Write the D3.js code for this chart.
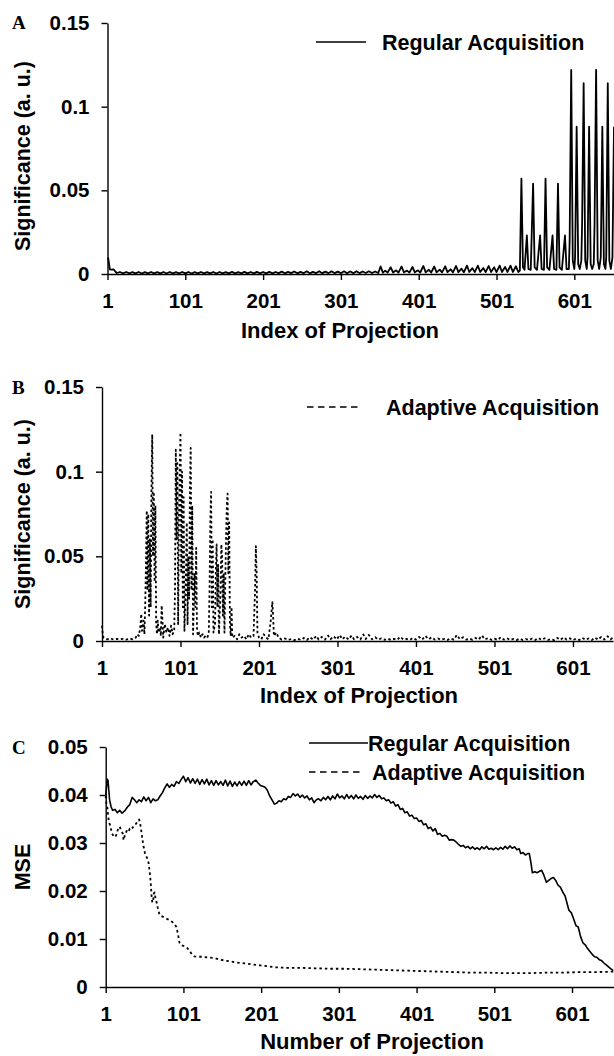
<!DOCTYPE html>
<html>
<head>
<meta charset="utf-8">
<script src="https://cdn.jsdelivr.net/npm/d3@7"></script>
<style>
  html, body { margin: 0; padding: 0; background: #fff; }
  svg { display: block; }
  text { font-family: "Liberation Sans", Arial, sans-serif; font-weight: bold; fill: #000; }
  .letter { font-family: "Liberation Serif", "Times New Roman", serif; }
</style>
</head>
<body>
<svg id="chart" width="614" height="1056"></svg>
<script>
// ---- tick values / labels ----
const projTicks = [1, 101, 201, 301, 401, 501, 601];
const sigTicks = [0, 0.05, 0.1, 0.15];
const sigTickLabels = ["0", "0.05", "0.1", "0.15"];
const mseTicks = [0, 0.01, 0.02, 0.03, 0.04, 0.05];
const mseTickLabels = ["0", "0.01", "0.02", "0.03", "0.04", "0.05"];
const seriesNames = ["Regular Acquisition", "Adaptive Acquisition"];

// ---- panel A: significance, regular acquisition [index, value] ----
const regularSig = [
  [1,0.0098],[2,0.0092],[3,0.006],[4,0.0028],[6,0.0026],[9,0.0027],[11,0.0015],[13,0.0006],
  [17,0.0012],[21,0.0004],[25,0.0012],[29,0.0004],[33,0.0011],[37,0.0004],[41,0.0012],[45,0.0003],
  [49,0.0011],[53,0.0004],[57,0.0012],[61,0.0004],[65,0.0011],[69,0.0004],[73,0.0012],[77,0.0003],
  [81,0.0012],[85,0.0004],[89,0.0011],[93,0.0004],[97,0.0012],[101,0.0004],[105,0.0012],[109,0.0003],
  [113,0.0011],[117,0.0004],[121,0.0012],[125,0.0004],[129,0.0011],[133,0.0004],[137,0.0012],[141,0.0003],
  [145,0.0012],[149,0.0004],[153,0.0011],[157,0.0004],[161,0.0013],[165,0.0004],[169,0.0011],[173,0.0004],
  [177,0.0013],[181,0.0004],[185,0.0012],[189,0.0004],[193,0.0013],[197,0.0004],[201,0.0012],[205,0.0004],
  [209,0.0013],[213,0.0004],[217,0.0012],[221,0.0005],[225,0.0014],[229,0.0004],[233,0.0013],[237,0.0005],
  [241,0.0015],[245,0.0004],[249,0.0013],[253,0.0005],[257,0.0016],[261,0.0004],[265,0.0013],[269,0.0005],
  [273,0.0017],[277,0.0005],[281,0.0014],[285,0.0005],[289,0.0016],[293,0.0005],[297,0.0014],[301,0.0005],
  [305,0.0016],[309,0.0005],[313,0.0015],[317,0.0005],[321,0.0017],[325,0.0005],[329,0.0015],[333,0.0006],
  [337,0.0016],[341,0.0006],[345,0.0015],[349,0.0006],
  [352,0.0045],[355,0.0008],[358,0.002],[361,0.0008],[365,0.004],[368,0.0009],[372,0.0022],[375,0.0008],
  [379,0.0045],[382,0.001],[386,0.002],[389,0.0008],[393,0.0042],[396,0.001],[400,0.0022],[403,0.0009],
  [407,0.0048],[410,0.001],[414,0.0025],[417,0.0009],[421,0.0045],[424,0.001],[428,0.0026],[431,0.001],
  [435,0.0046],[438,0.0011],[442,0.0028],[445,0.001],[449,0.0048],[452,0.0011],[456,0.0032],[459,0.001],
  [463,0.005],[466,0.0012],[470,0.0035],[473,0.0011],[477,0.005],[480,0.0012],[484,0.0036],[487,0.0011],
  [491,0.0048],[494,0.0012],[498,0.004],[501,0.0011],[505,0.005],[508,0.0012],[512,0.0042],[515,0.0012],
  [519,0.005],[522,0.0012],[526,0.0046],[529,0.0012],
  [531,0.002],[533,0.057],[535,0.004],[537,0.0025],[540,0.023],[542,0.003],[545,0.0025],[548,0.054],
  [550,0.004],[553,0.0025],[557,0.023],[559,0.003],[562,0.0025],[564,0.057],[566,0.004],[569,0.0025],
  [573,0.023],[575,0.003],[578,0.0025],[580,0.054],[582,0.004],[585,0.0025],[589,0.023],[591,0.003],
  [594,0.003],[595,0.02],[597,0.122],[599,0.008],[601,0.003],[602,0.01],[604,0.088],[606,0.006],
  [608,0.003],[610,0.008],[611,0.03],[613,0.114],[615,0.008],[617,0.003],[618,0.01],[620,0.088],
  [622,0.006],[624,0.003],[626,0.006],[627,0.03],[629,0.122],[631,0.008],[633,0.003],[635,0.01],
  [637,0.088],[639,0.006],[641,0.003],[642,0.01],[644,0.114],[646,0.008],[648,0.003],[650,0.01],[652,0.088]
];

// ---- panel B: significance, adaptive acquisition [index, value] ----
const adaptiveSig = [
  [1,0.009],[2,0.004],[3,0.002],[5,0.0015],[8,0.001],[12,0.0015],[16,0.0008],[20,0.0012],[24,0.001],
  [28,0.0013],[32,0.0008],[36,0.0015],[40,0.001],[44,0.002],[46,0.004],[48,0.003],[50,0.009],[51,0.016],
  [52,0.006],[54,0.012],[55,0.004],[56,0.02],[57,0.045],[58,0.077],[59,0.03],[60,0.075],[61,0.015],
  [62,0.06],[63,0.02],[64,0.09],[65,0.122],[66,0.05],[67,0.088],[68,0.035],[69,0.08],[70,0.01],
  [71,0.004],[72,0.012],[73,0.005],[75,0.008],[76,0.003],[77,0.021],[78,0.012],[79,0.002],[81,0.01],
  [83,0.005],[85,0.008],[87,0.003],[89,0.009],[91,0.004],[93,0.006],
  [94,0.03],[95,0.113],[96,0.06],[97,0.105],[98,0.01],[99,0.07],[100,0.1],[101,0.123],[102,0.04],
  [103,0.1],[104,0.02],[105,0.085],[106,0.006],[108,0.04],[109,0.07],[110,0.01],[111,0.05],[112,0.025],
  [113,0.09],[114,0.114],[115,0.03],[116,0.08],[117,0.004],[119,0.04],[120,0.02],[121,0.055],[122,0.008],
  [123,0.003],[125,0.005],[127,0.002],[129,0.004],[131,0.002],[133,0.003],[135,0.002],
  [137,0.004],[138,0.03],[139,0.07],[140,0.088],[141,0.02],[142,0.06],[143,0.005],[145,0.01],[146,0.04],
  [147,0.057],[148,0.02],[149,0.045],[150,0.004],[152,0.03],[153,0.057],[154,0.05],[155,0.015],[156,0.04],
  [157,0.005],[159,0.06],[160,0.08],[161,0.087],[162,0.04],[163,0.07],[164,0.01],[165,0.003],[166,0.02],
  [167,0.002],[170,0.003],[173,0.001],[176,0.004],[179,0.002],[182,0.003],[185,0.001],[188,0.004],
  [191,0.002],[194,0.003],[196,0.03],[197,0.056],[198,0.04],[199,0.005],[201,0.002],[204,0.001],
  [207,0.004],[210,0.002],[213,0.001],[216,0.012],[218,0.023],[219,0.015],[220,0.003],[223,0.005],
  [226,0.002],[230,0.0008],[234,0.0015],[238,0.0006],[242,0.0012],[246,0.0005],[250,0.0014],[254,0.0007],
  [258,0.0018],[262,0.0006],[266,0.0022],[270,0.0008],[274,0.003],[277,0.0009],[281,0.0024],[285,0.0008],
  [289,0.0032],[292,0.001],[296,0.0028],[300,0.0009],[304,0.0035],[307,0.001],[311,0.0026],[315,0.0009],
  [319,0.0032],[322,0.001],[326,0.0024],[330,0.0009],[334,0.0038],[337,0.0012],[341,0.0036],[345,0.001],
  [349,0.0022],[353,0.0008],[357,0.0016],[361,0.0007],[365,0.0014],[369,0.0006],[373,0.0012],[377,0.0007],
  [381,0.0025],[385,0.0008],[389,0.0012],[393,0.0006],[397,0.0018],[401,0.0008],[405,0.0024],[409,0.0009],
  [413,0.003],[417,0.001],[421,0.0022],[425,0.0008],[429,0.0015],[433,0.0007],[437,0.0012],[441,0.0006],
  [445,0.0016],[449,0.0008],[453,0.0035],[457,0.001],[461,0.0022],[465,0.0008],[469,0.0014],[473,0.0007],
  [477,0.0018],[481,0.0009],[485,0.0032],[489,0.0009],[493,0.0018],[497,0.0007],[501,0.0014],[505,0.0006],
  [509,0.0022],[513,0.0008],[517,0.0016],[521,0.0006],[525,0.0012],[529,0.0005],[533,0.0014],[537,0.0006],
  [541,0.0012],[545,0.0005],[549,0.0015],[553,0.0006],[557,0.0018],[561,0.0007],[565,0.0016],[569,0.0006],
  [573,0.0012],[577,0.0005],[581,0.0018],[585,0.0007],[589,0.0022],[593,0.0008],[597,0.0016],[601,0.0006],
  [605,0.0014],[609,0.0006],[613,0.0018],[617,0.0007],[621,0.0015],[625,0.0006],[629,0.002],[633,0.0008],
  [637,0.0024],[641,0.0009],[645,0.0028],[649,0.001],[652,0.002]
];

// ---- panel C: MSE vs number of projections [n, mse] ----
const regularMse = [
  [1,0.040],[2,0.0415],[3,0.0433],[4,0.043],[5,0.041],[6,0.039],[8,0.0375],[10,0.0368],[13,0.037],
  [16,0.0363],[19,0.0368],[22,0.0362],[26,0.0368],[29,0.0375],[32,0.038],[35,0.0395],[38,0.039],
  [41,0.0384],[44,0.039],[47,0.0386],[50,0.0396],[53,0.0388],[56,0.0395],[59,0.0384],[62,0.0392],
  [65,0.0388],[68,0.039],[71,0.0398],[74,0.0405],[77,0.0415],[80,0.0423],[83,0.0416],[86,0.0422],
  [89,0.0418],[92,0.0428],[95,0.0424],[98,0.0432],[101,0.0439],[104,0.0428],[107,0.0436],[110,0.0425],
  [113,0.0434],[116,0.0424],[119,0.0433],[122,0.0422],[125,0.0432],[128,0.0423],[131,0.0433],[134,0.0421],
  [137,0.043],[140,0.042],[143,0.043],[146,0.0421],[149,0.0428],[152,0.042],[155,0.0431],[158,0.0419],
  [161,0.0429],[164,0.0418],[167,0.0427],[170,0.0419],[173,0.0428],[176,0.042],[179,0.0429],[182,0.042],
  [185,0.043],[188,0.0421],[191,0.0428],[194,0.0431],[197,0.0425],[200,0.042],[203,0.0418],[206,0.0416],
  [209,0.041],[212,0.0398],[215,0.039],[218,0.0381],[221,0.0383],[224,0.0388],[227,0.0386],[230,0.0392],
  [233,0.039],[236,0.0397],[239,0.0395],[242,0.0403],[245,0.0398],[248,0.0402],[251,0.0395],[254,0.04],
  [257,0.0394],[260,0.0398],[263,0.039],[266,0.0394],[269,0.0384],[272,0.039],[275,0.0392],[278,0.0388],
  [281,0.0395],[284,0.039],[287,0.0397],[290,0.039],[293,0.0398],[296,0.0392],[299,0.0402],[302,0.0394],
  [305,0.0398],[308,0.0392],[311,0.0401],[314,0.0393],[317,0.0399],[320,0.0392],[323,0.04],[326,0.0393],
  [329,0.0397],[332,0.0391],[335,0.0399],[338,0.0393],[341,0.0398],[344,0.0394],[347,0.0401],[350,0.0395],
  [353,0.0399],[356,0.0392],[359,0.0394],[362,0.0388],[365,0.039],[368,0.0383],[371,0.0386],[374,0.0377],
  [377,0.038],[380,0.037],[383,0.0372],[386,0.0363],[389,0.0365],[392,0.0356],[395,0.0358],[398,0.0351],
  [401,0.0352],[404,0.0345],[407,0.0347],[410,0.0338],[413,0.034],[416,0.033],[419,0.0333],[422,0.0325],
  [425,0.033],[428,0.0318],[431,0.032],[434,0.0314],[437,0.0316],[440,0.0314],[443,0.0306],[446,0.0307],
  [449,0.0306],[452,0.0302],[455,0.0297],[458,0.0293],[461,0.0295],[464,0.029],[467,0.0293],[470,0.0288],
  [473,0.0292],[476,0.0287],[479,0.029],[482,0.0286],[485,0.0292],[488,0.0288],[491,0.0293],[494,0.0287],
  [497,0.0289],[500,0.0286],[503,0.029],[506,0.0286],[509,0.0291],[512,0.0287],[515,0.0293],[518,0.0288],
  [521,0.0294],[524,0.0289],[527,0.0292],[530,0.0286],[533,0.0288],[535,0.0278],[538,0.028],[541,0.0275],
  [544,0.0278],[546,0.0278],[548,0.026],[550,0.0238],[553,0.024],[556,0.0238],[559,0.0241],[562,0.0243],
  [565,0.0232],[568,0.0218],[571,0.0222],[574,0.0226],[577,0.0228],[580,0.0222],[583,0.0212],[586,0.0208],
  [589,0.0198],[592,0.019],[595,0.0172],[597,0.016],[600,0.0155],[603,0.0142],[606,0.0128],[609,0.0125],
  [612,0.0105],[615,0.0092],[618,0.0088],[621,0.008],[624,0.0074],[627,0.0068],[630,0.0063],[633,0.0062],
  [636,0.0057],[639,0.0055],[642,0.005],[645,0.0046],[648,0.0042],[651,0.0038],[654,0.0034]
];

const adaptiveMse = [
  [1,0.0398],[2,0.038],[3,0.0377],[4,0.036],[5,0.0345],[7,0.0335],[9,0.032],[11,0.0315],[13,0.0312],
  [15,0.0318],[17,0.033],[19,0.0334],[21,0.0325],[23,0.032],[24,0.0306],[26,0.0318],[28,0.0325],
  [30,0.0322],[32,0.033],[34,0.0328],[36,0.0333],[38,0.0338],[40,0.034],[42,0.0345],[44,0.0349],
  [46,0.0335],[48,0.031],[50,0.029],[52,0.0275],[54,0.027],[56,0.026],[58,0.0235],[59,0.0215],[60,0.019],
  [61,0.0176],[62,0.018],[63,0.0195],[64,0.0197],[65,0.0185],[66,0.018],[68,0.0165],[70,0.0152],
  [72,0.0148],[75,0.0146],[78,0.0143],[81,0.0141],[84,0.0139],[87,0.0135],[90,0.013],[92,0.0125],
  [94,0.011],[96,0.0092],[98,0.0088],[100,0.0086],[103,0.0085],[106,0.0081],[109,0.0075],[112,0.0068],
  [115,0.0064],[120,0.0063],[125,0.0063],[130,0.0062],[136,0.0061],[142,0.006],[148,0.0057],[155,0.0055],
  [162,0.0053],[170,0.0051],[180,0.0049],[190,0.0047],[200,0.0045],[210,0.0043],[220,0.0041],[235,0.004],
  [250,0.004],[270,0.0039],[290,0.0038],[310,0.0038],[330,0.0037],[350,0.0036],[370,0.0035],[390,0.0034],
  [410,0.0033],[430,0.0032],[450,0.0031],[470,0.003],[490,0.003],[510,0.0029],[530,0.0029],[550,0.0029],
  [570,0.003],[590,0.003],[610,0.0031],[630,0.0031],[654,0.0032]
];

const svg = d3.select('#chart');

function drawPanel(p) {
  const g = svg.append('g');
  const x = d3.scaleLinear().domain(p.xDomain).range([p.left, p.right]);
  const y = d3.scaleLinear().domain(p.yDomain).range([p.bottom, p.top]);

  // x axis
  const xa = g.append('g')
    .attr('transform', `translate(0,${p.bottom})`)
    .call(d3.axisBottom(x).tickValues(projTicks).tickSize(6).tickPadding(13).tickSizeOuter(0));
  // y axis
  const ya = g.append('g')
    .attr('transform', `translate(${p.left},0)`)
    .call(d3.axisLeft(y).tickValues(p.yTicks).tickSize(6).tickPadding(12).tickSizeOuter(0)
      .tickFormat((d, i) => p.yLabels[i]));

  [xa, ya].forEach(a => {
    a.select('.domain').attr('stroke', '#000').attr('stroke-width', 1.4);
    a.selectAll('.tick line').attr('stroke', '#000').attr('stroke-width', 1.4);
    a.selectAll('.tick text').style('font-size', '20.5px').attr('fill', '#000');
  });

  const line = d3.line().x(d => x(d[0])).y(d => y(d[1]));
  p.series.forEach(s => {
    g.append('path')
      .datum(s.data)
      .attr('fill', 'none')
      .attr('stroke', '#000')
      .attr('stroke-width', s.width)
      .attr('stroke-linejoin', 'round')
      .attr('stroke-dasharray', s.dash || null)
      .attr('d', line);
  });

  // panel letter
  g.append('text').attr('class', 'letter')
    .attr('x', 12).attr('y', p.letterY)
    .style('font-size', '19px')
    .text(p.letter);

  // axis titles
  g.append('text')
    .attr('x', p.xTitleX).attr('y', p.xTitleY).attr('dy', '0.35em')
    .attr('text-anchor', 'middle').style('font-size', '22px')
    .text(p.xTitle);
  g.append('text')
    .attr('transform', `translate(22,${p.yTitleY}) rotate(-90)`)
    .attr('dy', '0.35em')
    .attr('text-anchor', 'middle').style('font-size', '21.5px')
    .text(p.yTitle);

  // legend
  p.legend.forEach(l => {
    g.append('line')
      .attr('x1', l.x1).attr('x2', l.x2).attr('y1', l.y).attr('y2', l.y)
      .attr('stroke', '#000').attr('stroke-width', 1.6)
      .attr('stroke-dasharray', l.dash || null);
    g.append('text')
      .attr('x', l.tx).attr('y', l.y).attr('dy', '0.35em')
      .style('font-size', '21.5px')
      .text(l.name);
  });
}

// panel A
drawPanel({
  letter: 'A', letterY: 29,
  xDomain: [1, 652], left: 107.5, right: 614,
  yDomain: [0, 0.15], top: 23, bottom: 274,
  yTicks: sigTicks, yLabels: sigTickLabels,
  xTitle: 'Index of Projection', xTitleX: 340, xTitleY: 330,
  yTitle: 'Significance (a. u.)', yTitleY: 156,
  series: [{ data: regularSig, width: 1.8 }],
  legend: [{ name: seriesNames[0], x1: 316, x2: 366, y: 42, tx: 382 }]
});

// panel B
drawPanel({
  letter: 'B', letterY: 394,
  xDomain: [1, 652], left: 102, right: 613,
  yDomain: [0, 0.15], top: 387, bottom: 641,
  yTicks: sigTicks, yLabels: sigTickLabels,
  xTitle: 'Index of Projection', xTitleX: 359, xTitleY: 695,
  yTitle: 'Significance (a. u.)', yTitleY: 514,
  series: [{ data: adaptiveSig, width: 1.8, dash: '2.5,2.5' }],
  legend: [{ name: seriesNames[1], x1: 307, x2: 362, y: 407, tx: 386, dash: '6.5,4.5' }]
});

// panel C
drawPanel({
  letter: 'C', letterY: 754,
  xDomain: [1, 655], left: 105.7, right: 614,
  yDomain: [0, 0.05], top: 747, bottom: 987,
  yTicks: mseTicks, yLabels: mseTickLabels,
  xTitle: 'Number of Projection', xTitleX: 372, xTitleY: 1041,
  yTitle: 'MSE', yTitleY: 867,
  series: [
    { data: regularMse, width: 1.6 },
    { data: adaptiveMse, width: 1.8, dash: '2.5,3' }
  ],
  legend: [
    { name: seriesNames[0], x1: 309, x2: 368, y: 743, tx: 368 },
    { name: seriesNames[1], x1: 309, x2: 362, y: 772, tx: 372, dash: '6.5,4.5' }
  ]
});
</script>
</body>
</html>
